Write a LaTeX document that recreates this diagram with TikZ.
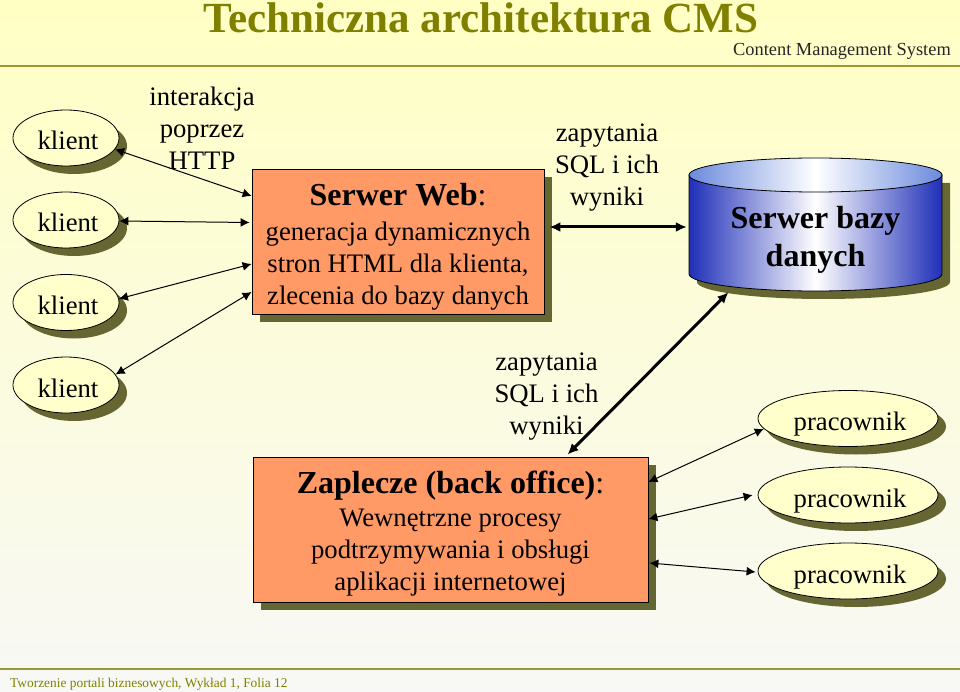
\documentclass[tikz,border=0pt]{standalone}
\usepackage{fontspec}
\setmainfont{Liberation Serif}
\usetikzlibrary{shapes.geometric,shadows,arrows.meta}
\definecolor{olivetext}{HTML}{808000}
\definecolor{oliveline}{HTML}{999933}
\definecolor{shadowolive}{HTML}{666633}
\definecolor{boxorange}{HTML}{FF9966}
\definecolor{ellipsefill}{HTML}{FFFFCC}
\definecolor{backtop}{HTML}{FFFFC4}
\definecolor{backbottom}{HTML}{F8F8F6}
\definecolor{dbblue}{HTML}{1F2FB8}
\definecolor{dbtop}{HTML}{6A8ADC}
\tikzset{
  plain/.style={align=center, font=\fontsize{26.7}{32}\selectfont, inner sep=0pt},
  person/.style={ellipse, draw=black, thick, fill=ellipsefill, inner sep=0pt, font=\fontsize{26.7}{32}\selectfont,
    text height=24pt, text depth=0pt, execute at begin node={\hspace*{4pt}},
    drop shadow={shadow xshift=8pt, shadow yshift=-8pt, fill=shadowolive, opacity=1}},
  server/.style={rectangle, draw=black, thick, fill=boxorange, align=center, inner sep=0pt, font=\fontsize{26.7}{32}\selectfont,
    drop shadow={shadow xshift=8pt, shadow yshift=-8pt, fill=shadowolive, opacity=1}},
  link/.style={{Latex[length=9pt,width=9pt]}-{Latex[length=9pt,width=9pt]}, black, line width=1pt},
  biglink/.style={{Latex[length=11pt,width=10pt]}-{Latex[length=11pt,width=10pt]}, black, line width=3pt}
}
\begin{document}
\begin{tikzpicture}[x=1pt, y=-1pt]
  \useasboundingbox (0, 0) rectangle (960, 692);
  % background and rules
  \shade[top color=backtop, bottom color=backbottom] (0, 0) rectangle (960, 692);
  \draw[oliveline, line width=2pt] (0, 66) -- (960, 66);
  \draw[oliveline, line width=1.5pt] (0, 669) -- (960, 669);
  \node[font=\fontsize{43}{46}\bfseries\selectfont, text=olivetext, inner sep=0pt] (title) at (481, 18) {Techniczna architektura CMS};
  \node[font=\fontsize{18.4}{20}\selectfont, text=black!85, inner sep=0pt, anchor=east] (subtitle) at (951, 51) {Content Management System};
  \node[font=\fontsize{13.4}{16}\selectfont, text=olivetext, inner sep=0pt, anchor=west] (footer) at (10, 684) {Tworzenie portali biznesowych, Wykład 1, Folia 12};

  % clients
  \node[person, minimum width=106, minimum height=56] (klientA) at (66, 138) {klient};
  \node[person, minimum width=106, minimum height=56] (klientB) at (66, 220) {klient};
  \node[person, minimum width=106, minimum height=56] (klientC) at (66, 302.5) {klient};
  \node[person, minimum width=106, minimum height=56] (klientD) at (66, 385) {klient};

  % staff
  \node[person, minimum width=180, minimum height=56] (pracownikA) at (848, 418.5) {pracownik};
  \node[person, minimum width=180, minimum height=56] (pracownikB) at (848, 495) {pracownik};
  \node[person, minimum width=180, minimum height=56] (pracownikC) at (848, 571) {pracownik};

  % boxes
  \node[server, minimum width=292, minimum height=145] (web) at (398, 241.5) {\rule{0pt}{33pt}{\fontsize{32}{32}\bfseries\selectfont Serwer Web}{\fontsize{32}{32}\selectfont :}\\[3pt]generacja dynamicznych\\stron HTML dla klienta,\\zlecenia do bazy danych};
  \node[server, minimum width=395, minimum height=145] (back) at (450.5, 529.5) {\rule{0pt}{31pt}{\fontsize{32}{32}\bfseries\selectfont Zaplecze (back office)}{\fontsize{32}{32}\selectfont :}\\[1pt]Wewnętrzne procesy\\podtrzymywania i obsługi\\aplikacji internetowej};

  % database
  \fill[shadowolive] (697, 183) -- (697, 282) arc (180:0:126.5 and 17) -- (950, 183) -- cycle;
  \shade[left color=dbblue, right color=dbblue, middle color=white, draw=black, thick] (689, 175) -- (689, 274) arc (180:0:126.5 and 17) -- (942, 175) -- cycle;
  \shade[left color=dbtop, right color=dbtop, middle color=white, draw=black, thick] (815.5, 175) ellipse (126.5 and 17);
  \node[inner sep=0pt, align=center, minimum width=253, minimum height=103, font=\fontsize{32}{38}\bfseries\selectfont] (db) at (815.5, 239.5) {Serwer bazy\\danych};

  % free labels
  \node[plain] (http) at (202, 128) {interakcja\\poprzez\\HTTP};
  \node[plain] (sqlA) at (607, 168) {zapytania\\SQL i ich\\wyniki};
  \node[plain] (sqlB) at (546.5, 397) {zapytania\\SQL i ich\\wyniki};

  % connectors
  \draw[link] (klientA.-13) -- ([yshift=45.5pt]web.west);
  \draw[link] ([yshift=-1pt]klientB.east) -- ([xshift=-2pt, yshift=19pt]web.west);
  \draw[link] (klientC.4) -- ([yshift=-22.5pt]web.west);
  \draw[link] (klientD.12) -- ([yshift=-50.5pt]web.west);
  \draw[link] (pracownikA.187) -- ([yshift=47.5pt]back.east);
  \draw[link] ([xshift=-5pt]pracownikB.west) -- ([yshift=10.5pt]back.east);
  \draw[link] ([xshift=-2pt, yshift=-1pt]pracownikC.west) -- ([xshift=1pt, yshift=-33.5pt]back.east);
  \draw[biglink] ([xshift=5pt, yshift=14.5pt]web.east) -- ([xshift=-2pt, yshift=12.5pt]db.west);
  \draw[biglink] ([xshift=117pt, yshift=2pt]back.north) -- ([xshift=-87pt, yshift=-1pt]db.south);
\end{tikzpicture}
\end{document}
